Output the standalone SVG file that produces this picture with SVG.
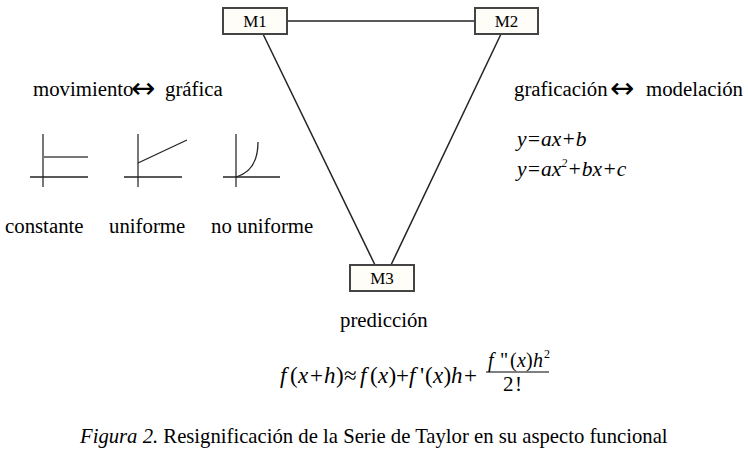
<svg xmlns="http://www.w3.org/2000/svg" width="748" height="452" viewBox="0 0 748 452">
<style>
text{font-family:"Liberation Serif","Times New Roman",serif;fill:#000}
.box{fill:#fffdf8;stroke:#444;stroke-width:2}
.lbl{font-size:17px;text-anchor:middle}
.t{font-size:20.8px}
.m{font-size:21.5px}
.i{font-style:italic}
.arr{font-family:"DejaVu Sans",sans-serif;font-size:29px}
.edge{stroke:#222;stroke-width:1.5;fill:none}
.ax{stroke:#222;stroke-width:1.3;fill:none}
.gy{stroke:#777;stroke-width:2;fill:none}
</style>
<rect width="748" height="452" fill="#fff"/>
<g id="connectors">
<line class="edge" x1="287" y1="21" x2="475" y2="21"/>
<line class="edge" x1="263" y1="34" x2="375" y2="265"/>
<line class="edge" x1="501" y1="34" x2="391" y2="265"/>
</g>
<g id="M1"><rect class="box" x="223" y="8" width="64" height="26"/><text class="lbl" x="255" y="27">M1</text></g>
<g id="M2"><rect class="box" x="475" y="8" width="63" height="26"/><text class="lbl" x="506.5" y="27">M2</text></g>
<g id="M3"><rect class="box" x="350" y="265" width="64" height="26"/><text class="lbl" x="382" y="284">M3</text></g>
<text class="t" x="33" y="96">movimiento<tspan class="arr" x="131" y="98">↔</tspan><tspan x="165" y="96">gráfica</tspan></text>
<text class="t" x="514" y="96">graficación <tspan class="arr" x="610" y="98">↔</tspan><tspan x="646" y="96">modelación</tspan></text>
<text class="m i" x="517" y="146">y=ax+b</text>
<text class="m i" x="517" y="176">y=ax<tspan font-size="12" dy="-9">2</tspan><tspan dy="9">+bx+c</tspan></text>
<g id="graph-constante">
<line class="gy" x1="43" y1="134" x2="43" y2="187"/>
<line class="ax" x1="30" y1="177" x2="88" y2="177"/>
<line class="gy" x1="43" y1="157" x2="88" y2="157"/>
</g>
<g id="graph-uniforme">
<line class="gy" x1="138" y1="134" x2="138" y2="187"/>
<line class="ax" x1="124" y1="177" x2="182" y2="177"/>
<line class="ax" x1="138" y1="163" x2="187" y2="140"/>
</g>
<g id="graph-nouniforme">
<line class="gy" x1="236" y1="134" x2="236" y2="187"/>
<line class="ax" x1="223" y1="177" x2="280" y2="177"/>
<path class="ax" d="M236,177 C250,173 258,162 258,142"/>
</g>
<text class="t" x="5" y="233">constante</text>
<text class="t" x="109" y="233">uniforme</text>
<text class="t" x="211" y="233">no uniforme</text>
<text class="t" x="340" y="327">predicción</text>
<g id="formula" font-size="23">
<text y="383"><tspan class="i" x="280">f</tspan><tspan x="290">(</tspan><tspan class="i" x="298">x</tspan><tspan x="310">+</tspan><tspan class="i" x="324">h</tspan><tspan x="336">)</tspan><tspan x="344">≈</tspan><tspan class="i" x="360">f</tspan><tspan x="370">(</tspan><tspan class="i" x="378">x</tspan><tspan x="388.5">)</tspan><tspan x="396">+</tspan><tspan class="i" x="409">f</tspan><tspan x="420">'</tspan><tspan x="425">(</tspan><tspan class="i" x="433">x</tspan><tspan x="443.5">)</tspan><tspan class="i" x="451">h</tspan><tspan x="464">+</tspan></text>
<text y="367" font-size="20"><tspan class="i" x="488">f</tspan><tspan x="500">"</tspan><tspan x="510">(</tspan><tspan class="i" x="517">x</tspan><tspan x="526">)</tspan><tspan class="i" x="533">h</tspan><tspan x="544" y="358" font-size="12">2</tspan></text>
<line x1="486" y1="372" x2="549" y2="372" stroke="#000" stroke-width="1.2"/>
<text x="503" y="391" font-size="21">2<tspan x="515">!</tspan></text>
</g>
<text font-size="20.7" x="80" y="443"><tspan class="i">Figura 2.</tspan> Resignificación de la Serie de Taylor en su aspecto funcional</text>
</svg>
